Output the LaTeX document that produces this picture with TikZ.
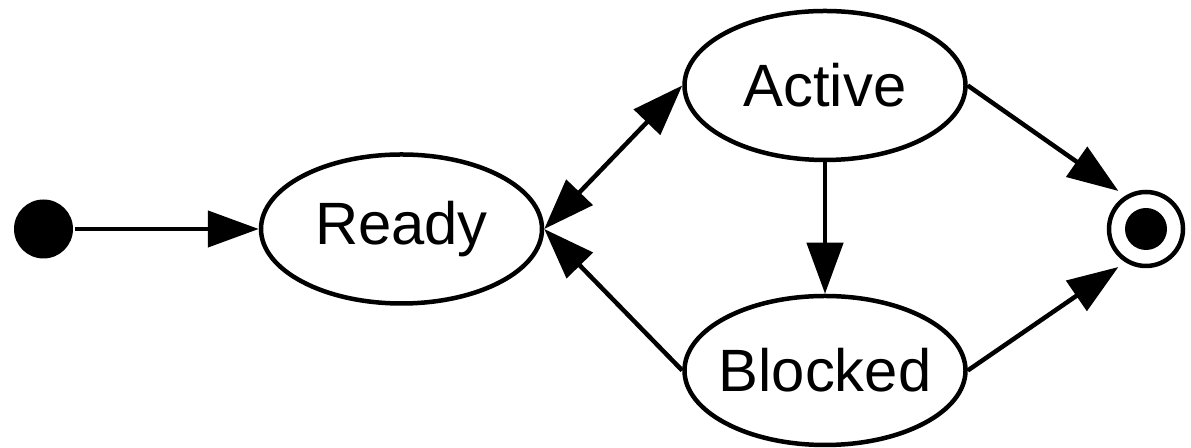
\documentclass[tikz,border=0pt]{standalone}
\usepackage{fontspec}
\setmainfont{Liberation Sans}
\usetikzlibrary{arrows.meta,shapes.geometric}

\begin{document}
\begin{tikzpicture}[font=\fontsize{34}{40}\selectfont,>={Triangle[length=1.02cm,width=0.72cm]},
 stnode/.style={draw,ellipse,minimum width=5.62cm,minimum height=2.98cm,inner sep=0pt,inner xsep=-0.8cm},
 initdot/.style={circle,fill,minimum size=1.18cm,inner sep=0pt},
 finring/.style={circle,draw,minimum size=1.48cm,inner sep=0pt,outer sep=0.2cm},
 every path/.style={line width=0.09cm}]
\useasboundingbox (0,0) rectangle (23.82,8.96);
\node[initdot] (init) at (0.87,4.38) {};
\node[stnode] (ready) at (8.03,4.38) {Ready};
\node[stnode] (active) at (16.5,7.25) {Active};
\node[stnode] (blocked) at (16.5,1.55) {Blocked};
\node[finring] (fin) at (22.92,4.38) {};
\node[circle,fill,minimum size=0.84cm,inner sep=0pt] (findot) at (fin) {};
\draw[->] (init) -- (ready);
\draw[<->] (ready.east) -- (active.west);
\draw[->] (active) -- (blocked);
\draw[->] (blocked.west) -- (ready.east);
\draw[->] (active.east) -- (fin.126);
\draw[->] (blocked.east) -- (fin.234);
\end{tikzpicture}
\end{document}
